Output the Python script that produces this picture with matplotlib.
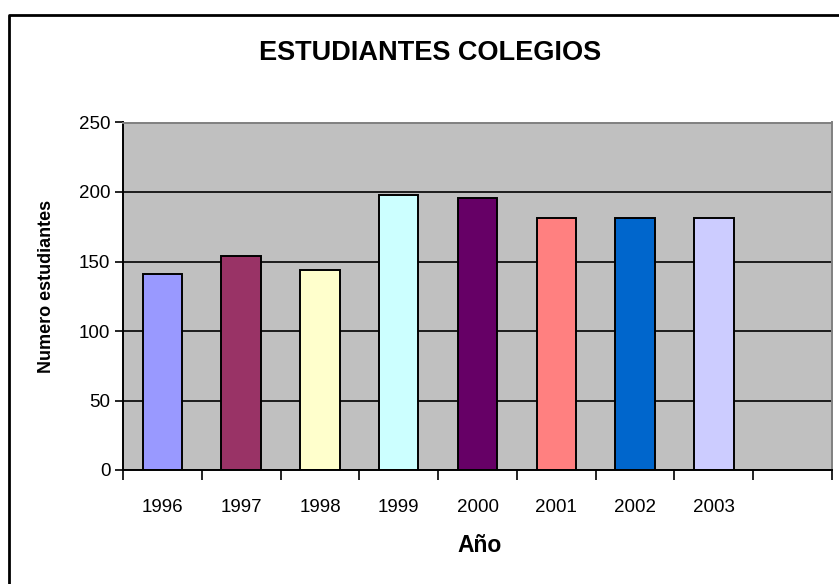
import numpy as np
import matplotlib
matplotlib.use("Agg")
import matplotlib.pyplot as plt
from matplotlib.lines import Line2D

plt.rcParams['font.family'] = ['Liberation Sans', 'DejaVu Sans']

years = ["1996", "1997", "1998", "1999", "2000", "2001", "2002", "2003"]
students = [141, 154, 144, 198, 196, 181, 181, 181]
bar_colors = ["#9999FF", "#993366", "#FFFFCC", "#CCFFFF",
              "#660066", "#FF8080", "#0066CC", "#CCCCFF"]
n_slots = 9  # excel leaves an empty category at the end
y_ticks = [0, 50, 100, 150, 200, 250]

W, H = 839, 584
fig = plt.figure(figsize=(W / 100, H / 100), dpi=100)
ax = fig.add_axes([123 / W, 1 - 470 / H, (832 - 123) / W, (470 - 122.5) / H])

ax.set_facecolor("#C0C0C0")
ax.set_axisbelow(True)
ax.yaxis.grid(True, color="black", linewidth=1.2)

x = np.arange(len(years))
ax.bar(x, students, width=0.5, color=bar_colors, edgecolor="black", linewidth=1.4)

ax.set_xlim(-0.5, n_slots - 0.5)
ax.set_ylim(0, 250)
ax.set_yticks(y_ticks)

# tick marks between categories, labels at the centres
ax.set_xticks(np.arange(n_slots + 1) - 0.5)
ax.set_xticklabels([])
ax.set_xticks(np.arange(n_slots), minor=True)
ax.set_xticklabels(years + [""], minor=True, fontsize=13.5)
ax.tick_params(axis="x", which="major", direction="out", length=7, width=1.2)
ax.tick_params(axis="x", which="minor", length=0, pad=21)
ax.tick_params(axis="y", direction="out", length=6, width=1.2, labelsize=13.5, pad=3)

ax.spines["left"].set_linewidth(1.4)
ax.spines["bottom"].set_linewidth(1.4)
ax.spines["top"].set_color("#808080")
ax.spines["right"].set_color("#808080")
ax.spines["top"].set_linewidth(1.4)
ax.spines["right"].set_linewidth(1.4)

fig.text(430 / W, 1 - 53 / H, "ESTUDIANTES COLEGIOS", ha="center", va="center",
         fontsize=19.5, fontweight="bold")
fig.text(47 / W, 1 - 286 / H, "Numero estudiantes", ha="center", va="center",
         rotation=90, fontsize=13, fontweight="bold")
fig.text(480 / W, 1 - 546 / H, "Año", ha="center", va="center",
         fontsize=16.5, fontweight="bold")

# chart area frame (right and bottom fall outside the image)
frame = Line2D([8.5 / W, 8.5 / W, 1.2], [-0.1, 1 - 14.5 / H, 1 - 14.5 / H],
               transform=fig.transFigure, color="black", linewidth=2)
fig.add_artist(frame)

fig.savefig("out.png", dpi=100)
